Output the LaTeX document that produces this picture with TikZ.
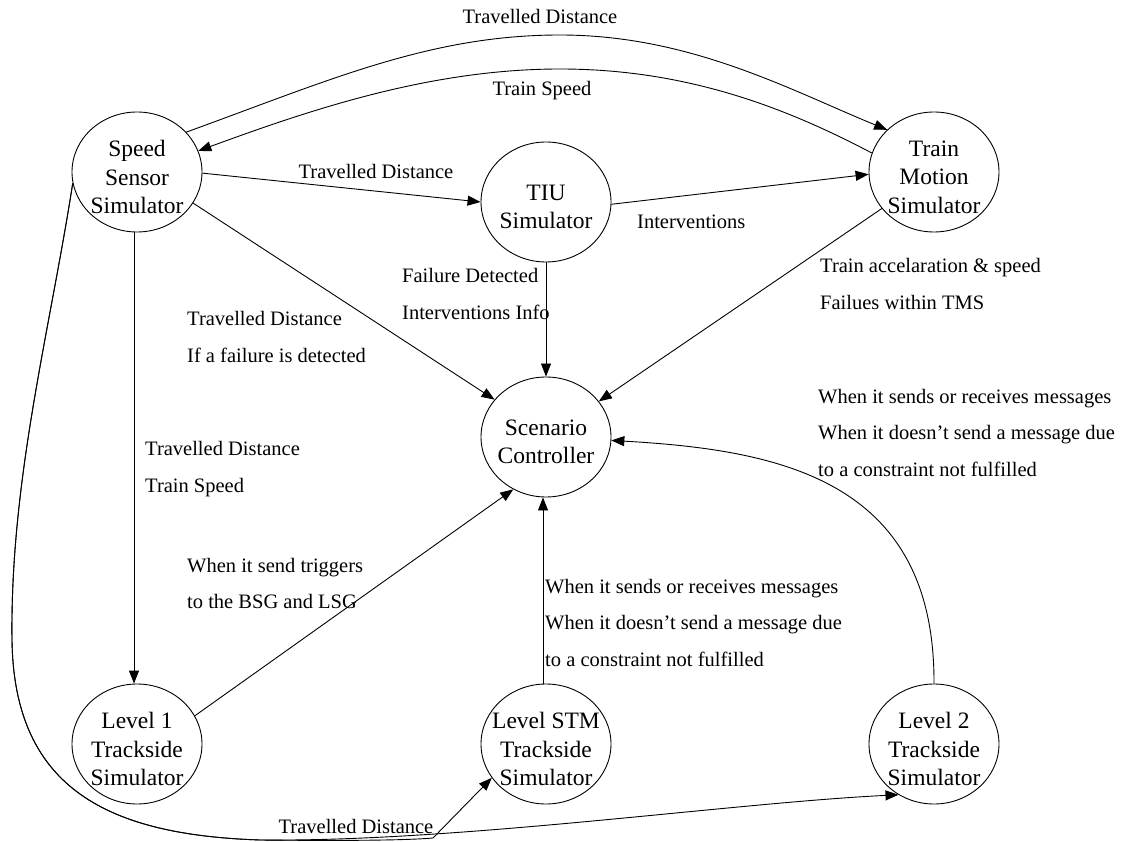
\documentclass[tikz,border=0pt]{standalone}
\usepackage{fontspec}
\setmainfont{Liberation Serif}
\usetikzlibrary{arrows.meta,shapes.geometric}
\begin{document}
\begin{tikzpicture}[x=1pt,y=-1pt,
  proc/.style={ellipse,draw,line width=0.9pt,minimum width=130pt,minimum height=120pt,inner sep=0pt},
  proctext/.style={align=center,inner sep=0pt,font=\fontsize{23.5}{28.5}\selectfont},
  flow/.style={draw,line width=0.9pt,-{Triangle[length=13pt,width=10pt]}},
  lbl/.style={anchor=base west,inner sep=0pt,align=left,font=\fontsize{20.5}{36.5}\selectfont},
  lblc/.style={anchor=base,inner sep=0pt,font=\fontsize{20.5}{24}\selectfont}]

\fill[white] (0,0) rectangle (1128,842);
\useasboundingbox (0,0) rectangle (1128,842);

% processes
\node[proc] (speed) at (137,172) {};
\node[proc] (tiu)   at (546,202) {};
\node[proc] (train) at (934,172) {};
\node[proc] (scen)  at (546,437) {};
\node[proc] (lv1)   at (137,744) {};
\node[proc] (lvstm) at (546,744) {};
\node[proc] (lv2)   at (934,744) {};

\node[proctext] (speedtxt) at ([yshift=-5pt]speed.center) {Speed\\Sensor\\Simulator};
\node[proctext] (tiutxt)   at ([yshift=-5pt]tiu.center)   {TIU\\Simulator};
\node[proctext] (traintxt) at ([yshift=-5pt]train.center) {Train\\Motion\\Simulator};
\node[proctext] (scentxt)  at ([yshift=-5pt]scen.center)  {Scenario\\Controller};
\node[proctext] (lv1txt)   at ([yshift=-5pt]lv1.center)   {Level 1\\Trackside\\Simulator};
\node[proctext] (lvstmtxt) at ([yshift=-5pt]lvstm.center) {Level STM\\Trackside\\Simulator};
\node[proctext] (lv2txt)   at ([yshift=-5pt]lv2.center)   {Level 2\\Trackside\\Simulator};

% speed sensor <-> train motion
\path[flow] (speed.39) .. controls (330,80) and (430,35) .. (560,35)
  .. controls (690,35) and (790,90) .. (train.138);
\path[flow] (train.163) .. controls (790,110) and (690,69) .. (560,69)
  .. controls (430,69) and (310,110) .. (speed.19);

% top row
\path[flow] (speed.-1) -- (tiu.west);
\path[flow] (tiu.-2) -- (train.182);

% into the scenario controller
\path[flow] (tiu.south) -- (scen.north);
\path[flow] (speed.-29) -- (scen.144);
\path[flow] (train.215) -- (scen.34);
\path[flow] (lv1.26) -- (scen.-122);
\path[flow] ([xshift=-3pt]lvstm.north) -- ([xshift=-3pt]scen.south);
\path[flow] (lv2.north) .. controls (935,480) and (780,450) .. (scen.-3);

% speed sensor to level 1
\path[flow] ([xshift=-3pt]speed.south) -- ([xshift=-3pt]lv1.north);

% speed sensor around the bottom to the trackside simulators
\path[flow] (speed.190) .. controls (50,330) and (10,480) .. (12,640)
  .. controls (14,790) and (110,835) .. (260,840)
  .. controls (360,841) and (410,840) .. (433,838) -- (lvstm.212);
\path[flow] (speed.190) .. controls (50,330) and (10,480) .. (12,640)
  .. controls (14,790) and (110,835) .. (260,840)
  .. controls (460,842) and (730,803) .. (lv2.235);

% labels (multi-line ones are placed by the baseline of their last line)
\node[lblc] (ltop)  at (540,24) {Travelled Distance};
\node[lblc] (lspd)  at (542,96) {Train Speed};
\node[lblc] (ltiu)  at (376,179) {Travelled Distance};
\node[lbl]  (lint)  at (637,229) {Interventions};
\node[lbl]  (lfail) at (402,319.5) {Failure Detected\\Interventions Info};
\node[lbl]  (lacc)  at (820,309.5) {Train accelaration \& speed\\Failues within TMS};
\node[lbl]  (ldet)  at (187,362.5) {Travelled Distance\\If a failure is detected};
\node[lbl]  (ll1)   at (145,492.5) {Travelled Distance\\Train Speed};
\node[lbl]  (lmsg2) at (818,476) {When it sends or receives messages\\When it doesn’t send a message due\\to a constraint not fulfilled};
\node[lbl]  (ltrig) at (187,608.5) {When it send triggers\\to the BSG and LSG};
\node[lbl]  (lmsg)  at (545,666) {When it sends or receives messages\\When it doesn’t send a message due\\to a constraint not fulfilled};
\node[lblc] (lbot)  at (356,833) {Travelled Distance};
\end{tikzpicture}
\end{document}
